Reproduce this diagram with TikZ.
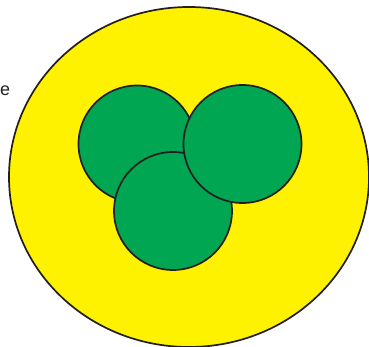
\documentclass[tikz,border=0pt]{standalone}
\usepackage{fontspec}
\setmainfont{Liberation Sans}
\usetikzlibrary{shapes.geometric}
\definecolor{fillyellow}{HTML}{FFF200}
\definecolor{fillgreen}{HTML}{00A651}
\definecolor{edge}{HTML}{231F20}
\begin{document}
\begin{tikzpicture}[x=1pt,y=-1pt,
  blob/.style={draw=edge,line width=1.7pt}]
\useasboundingbox (0,0) rectangle (369,347);
\node[blob,fill=fillyellow,ellipse,minimum width=360pt,minimum height=340pt,inner sep=0pt] (cell) at (189,177) {};
\node[blob,fill=fillgreen,circle,minimum size=117pt,inner sep=0pt] (left) at (137,144) {};
\node[blob,fill=fillgreen,circle,minimum size=118pt,inner sep=0pt] (bottom) at (173,211) {};
\node[blob,fill=fillgreen,circle,minimum size=118pt,inner sep=0pt] (right) at (242.5,144) {};
\node[anchor=west,inner sep=0pt,font=\fontsize{18}{20}\selectfont,text=edge] (lbl) at (0,91) {e};
\end{tikzpicture}
\end{document}
